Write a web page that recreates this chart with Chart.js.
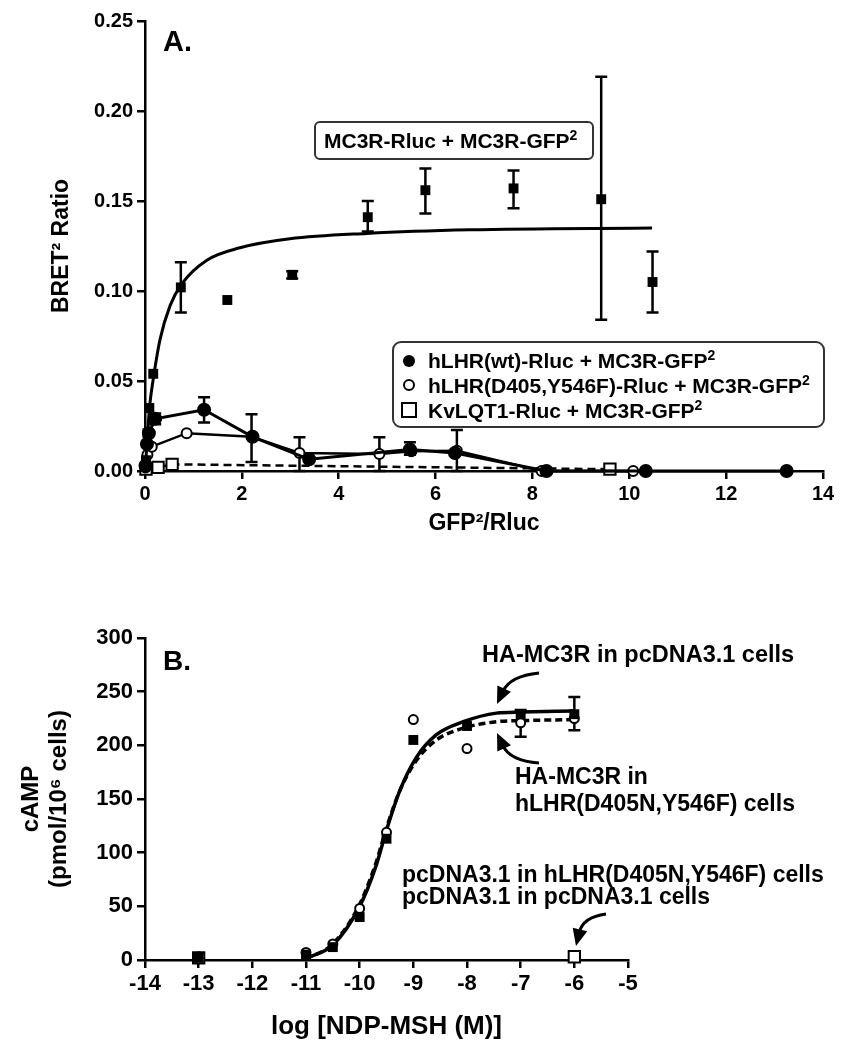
<!DOCTYPE html>
<html>
<head>
<meta charset="utf-8">
<script src="https://cdn.jsdelivr.net/npm/chart.js@4.4.1/dist/chart.umd.min.js"></script>
<style>
  html, body { margin: 0; padding: 0; background: #fff; }
  #wrap { position: relative; width: 849px; height: 1050px; }
  canvas { position: absolute; left: 0; }
  #chartA { top: 0; }
  #chartB { top: 540px; }
</style>
</head>
<body>
<div id="wrap">
  <canvas id="chartA" width="849" height="540"></canvas>
  <canvas id="chartB" width="849" height="510"></canvas>
</div>
<script>
// ---- Panel A: BRET2 saturation ----
const mc3rX  = [0.02, 0.05, 0.09, 0.17, 0.74, 1.70, 3.04, 4.60, 5.79, 7.61, 9.42, 10.48];
const mc3rY  = [0.006, 0.021, 0.035, 0.054, 0.102, 0.095, 0.109, 0.141, 0.156, 0.157, 0.151, 0.105];
const mc3rLo = [null, null, null, null, 0.088, null, 0.107, 0.133, 0.143, 0.146, 0.084, 0.088];
const mc3rHi = [null, null, null, null, 0.116, null, 0.111, 0.150, 0.168, 0.167, 0.219, 0.122];

const mc3rFitX = [0, 0.05, 0.10, 0.17, 0.31, 0.52, 0.76, 1.27, 1.96, 2.99, 4.58, 6.71, 10.47];
const mc3rFitY = [0, 0.020, 0.037, 0.051, 0.073, 0.092, 0.104, 0.117, 0.124, 0.129, 0.132, 0.134, 0.135];

const wtX  = [0.01, 0.04, 0.08, 0.21, 1.22, 2.22, 3.39, 5.47, 6.40, 8.29, 10.34, 13.25];
const wtY  = [0.003, 0.015, 0.021, 0.029, 0.034, 0.019, 0.0065, 0.012, 0.010, 0.0, 0.0, 0.0];
const wtLo = [null, null, null, 0.026, 0.027, null, null, 0.009, null, null, null, null];
const wtHi = [null, null, null, 0.032, 0.041, null, null, 0.016, null, null, null, null];

const mutX  = [0.01, 0.05, 0.14, 0.86, 2.20, 3.19, 4.84, 5.50, 6.44, 8.19, 10.08];
const mutY  = [0.002, 0.009, 0.0135, 0.021, 0.019, 0.010, 0.0094, 0.011, 0.0113, 0.0, 0.0];
const mutLo = [null, null, null, null, 0.005, 0.0, 0.0, null, 0.0, null, null];
const mutHi = [null, null, null, null, 0.0315, 0.0187, 0.0187, null, 0.0228, null, null];

const kvX = [0.02, 0.27, 0.56, 9.60];
const kvY = [0.001, 0.002, 0.0037, 0.001];

// ---- Panel B: cAMP dose response ----
const logDose  = [-13, -11, -10.5, -10, -9.5, -9, -8, -7, -6];
const campWt   = [2, 5, 12, 40, 113, 205, 218, 229, 229];
const campWtLo = [null, null, null, null, null, null, null, null, 214];
const campWtHi = [null, null, null, null, null, null, null, null, 245];
const campMut   = [3, 7, 15, 48, 119, 224, 197, 221, 225];
const campMutLo = [null, null, null, null, null, null, null, 208, null];
const campMutHi = [null, null, null, null, null, null, null, 233, null];

const ctrlDose = [-13, -6];
const ctrlCamp = [2, 3];

const fitDose   = [-11, -10.5, -10, -9.7, -9.5, -9.25, -8.94, -8.57, -8.07, -7.45, -7, -6];
const fitWt     = [1.6, 14, 50, 87, 121, 158, 189, 210, 222, 230, 231, 232];
const fitMut    = [1, 15, 52, 90, 123, 158, 186, 205, 216, 222, 223, 224];

const FONT = "'Liberation Sans', Arial, Helvetica, sans-serif";
Chart.defaults.font.family = FONT;
Chart.defaults.font.weight = "bold";
Chart.defaults.color = "#000";

const pts = (xs, ys) => xs.map((x, i) => ({ x, y: ys[i] }));

const errorBars = {
  id: "errorBars",
  beforeDatasetsDraw(chart) {
    const { ctx, scales: { x, y } } = chart;
    ctx.save();
    ctx.strokeStyle = "#000";
    ctx.lineWidth = 2.5;
    chart.data.datasets.forEach(ds => {
      if (!ds.errLo) return;
      ds.data.forEach((p, i) => {
        const lo = ds.errLo[i], hi = ds.errHi[i];
        if (lo == null || hi == null) return;
        const px = x.getPixelForValue(p.x);
        const yl = y.getPixelForValue(lo), yh = y.getPixelForValue(hi);
        ctx.beginPath();
        ctx.moveTo(px, yl); ctx.lineTo(px, yh);
        ctx.moveTo(px - 6, yl); ctx.lineTo(px + 6, yl);
        ctx.moveTo(px - 6, yh); ctx.lineTo(px + 6, yh);
        ctx.stroke();
      });
    });
    ctx.restore();
  }
};

// text with a trailing superscript part
function rich(ctx, parts, x, y, size) {
  let cx = x;
  parts.forEach(([t, sup]) => {
    const s = sup ? Math.round(size * 0.65) : size;
    ctx.font = `bold ${s}px ${FONT}`;
    ctx.fillText(t, cx, sup ? y - size * 0.38 : y);
    cx += ctx.measureText(t).width;
  });
}

function box(ctx, x, y, w, h, r) {
  ctx.beginPath();
  ctx.roundRect(x, y, w, h, r);
  ctx.lineWidth = 2;
  ctx.strokeStyle = "#333";
  ctx.stroke();
}

const panelA = {
  id: "panelA",
  afterDraw(chart) {
    const ctx = chart.ctx;
    ctx.save();
    ctx.fillStyle = "#000";
    ctx.textBaseline = "alphabetic";
    ctx.font = `bold 29px ${FONT}`;
    ctx.fillText("A.", 163, 51);

    box(ctx, 315, 122, 278, 37, 5);
    rich(ctx, [["MC3R-Rluc + MC3R-GFP", 0], ["2", 1]], 324, 148, 21);

    box(ctx, 393, 342, 431, 85, 8);
    // markers
    ctx.lineWidth = 2;
    ctx.strokeStyle = "#000";
    ctx.beginPath(); ctx.arc(409, 361, 6, 0, Math.PI * 2); ctx.fill();
    ctx.beginPath(); ctx.arc(409, 385, 5, 0, Math.PI * 2);
    ctx.fillStyle = "#fff"; ctx.fill(); ctx.stroke();
    ctx.strokeRect(402, 403, 14, 14);
    ctx.fillStyle = "#000";
    rich(ctx, [["hLHR(wt)-Rluc + MC3R-GFP", 0], ["2", 1]], 428, 368, 21);
    rich(ctx, [["hLHR(D405,Y546F)-Rluc + MC3R-GFP", 0], ["2", 1]], 428, 393, 21);
    rich(ctx, [["KvLQT1-Rluc + MC3R-GFP", 0], ["2", 1]], 428, 418, 21);
    ctx.restore();
  }
};

function arrow(ctx, x0, y0, cx, cy, tx, ty) {
  const dx = tx - cx, dy = ty - cy, d = Math.hypot(dx, dy);
  const ux = dx / d, uy = dy / d, L = 17, W = 7.5;
  const bx = tx - ux * L, by = ty - uy * L;
  ctx.beginPath();
  ctx.moveTo(x0, y0);
  ctx.quadraticCurveTo(cx, cy, bx + ux * 3, by + uy * 3);
  ctx.stroke();
  ctx.beginPath();
  ctx.moveTo(tx, ty);
  ctx.lineTo(bx - uy * W, by + ux * W);
  ctx.lineTo(bx + uy * W, by - ux * W);
  ctx.closePath();
  ctx.fill();
}

const panelB = {
  id: "panelB",
  afterDraw(chart) {
    const ctx = chart.ctx;
    ctx.save();
    ctx.fillStyle = "#000";
    ctx.strokeStyle = "#000";
    ctx.textBaseline = "middle";
    ctx.font = `bold 28px ${FONT}`;
    ctx.fillText("B.", 163, 122);
    ctx.font = `bold 23.5px ${FONT}`;
    ctx.fillText("HA-MC3R in pcDNA3.1 cells", 482, 116);
    ctx.font = `bold 23px ${FONT}`;
    ctx.fillText("HA-MC3R in", 515, 238);
    ctx.fillText("hLHR(D405N,Y546F) cells", 515, 265);
    ctx.fillText("pcDNA3.1 in hLHR(D405N,Y546F) cells", 402, 336);
    ctx.fillText("pcDNA3.1 in pcDNA3.1 cells", 402, 358);
    ctx.lineWidth = 3;
    arrow(ctx, 539, 133, 510, 136, 497, 164);
    arrow(ctx, 539, 223, 510, 221, 497, 193);
    arrow(ctx, 606, 374, 583, 377, 576, 406);
    ctx.restore();
  }
};

function axis(extra) {
  return Object.assign({
    type: "linear",
    border: { display: true, color: "#000", width: 2.5 },
    grid: { display: true, drawOnChartArea: false, drawTicks: true, tickLength: 8, color: "#000", lineWidth: 2.5 },
  }, extra);
}

new Chart(document.getElementById("chartA"), {
  type: "scatter",
  data: {
    datasets: [
      { data: pts(mc3rX, mc3rY), errLo: mc3rLo, errHi: mc3rHi, showLine: false,
        pointStyle: "rect", pointRadius: 7, backgroundColor: "#000", borderColor: "#000", borderWidth: 0 },
      { data: pts(wtX, wtY), errLo: wtLo, errHi: wtHi, showLine: true, borderWidth: 3,
        borderColor: "#000", pointStyle: "circle", pointRadius: 5.5, pointBackgroundColor: "#000" },
      { data: pts(mutX, mutY), errLo: mutLo, errHi: mutHi, showLine: true, borderWidth: 2.5,
        borderColor: "#000", pointStyle: "circle", pointRadius: 5, pointBorderWidth: 2, pointBackgroundColor: "#fff" },
      { data: pts(kvX, kvY), showLine: true, borderWidth: 2.5, borderDash: [8, 5],
        borderColor: "#000", pointStyle: "rect", pointRadius: 8, pointBorderWidth: 2, pointBackgroundColor: "#fff" },
      { data: pts(mc3rFitX, mc3rFitY), showLine: true, borderWidth: 3, borderColor: "#000",
        pointRadius: 0, cubicInterpolationMode: "monotone" },
    ]
  },
  options: {
    responsive: false,
    animation: false,
    events: [],
    clip: false,
    layout: { padding: { top: 21, right: 26, left: 0, bottom: 0 } },
    plugins: { legend: { display: false }, tooltip: { enabled: false } },
    scales: {
      x: axis({
        min: 0, max: 14,
        ticks: { stepSize: 2, font: { size: 20, weight: "bold" }, padding: 3 },
        title: { display: true, text: "GFP²/Rluc", font: { size: 23, weight: "bold" }, padding: { top: 0, bottom: 3 } },
        afterFit(s) { s.height = 69; }
      }),
      y: axis({
        min: 0, max: 0.25,
        ticks: { stepSize: 0.05, font: { size: 20, weight: "bold" }, padding: 4, callback: v => v.toFixed(2) },
        title: { display: true, text: "BRET² Ratio", font: { size: 23, weight: "bold" }, padding: { top: 48 } },
        afterFit(s) { s.width = 145; }
      })
    }
  },
  plugins: [errorBars, panelA]
});

new Chart(document.getElementById("chartB"), {
  type: "scatter",
  data: {
    datasets: [
      { data: pts(logDose, campWt), errLo: campWtLo, errHi: campWtHi, showLine: false,
        pointStyle: "rect", pointRadius: 7, backgroundColor: "#000", borderColor: "#000", borderWidth: 0 },
      { data: pts(ctrlDose, ctrlCamp), showLine: false, pointStyle: "rect", pointRadius: 8,
        pointBorderWidth: 2, borderColor: "#000", pointBackgroundColor: "#fff" },
      { data: pts(logDose, campMut), errLo: campMutLo, errHi: campMutHi, showLine: false,
        pointStyle: "circle", pointRadius: 4.5, pointBorderWidth: 2, borderColor: "#000", pointBackgroundColor: "#fff" },
      { data: pts(fitDose, fitWt), showLine: true, borderWidth: 3.5, borderColor: "#000",
        pointRadius: 0, cubicInterpolationMode: "monotone" },
      { data: pts(fitDose, fitMut), showLine: true, borderWidth: 3.5, borderColor: "#000", borderDash: [7, 4],
        pointRadius: 0, cubicInterpolationMode: "monotone" },
    ]
  },
  options: {
    responsive: false,
    animation: false,
    events: [],
    clip: false,
    layout: { padding: { top: 98, right: 221, left: 0, bottom: 0 } },
    plugins: { legend: { display: false }, tooltip: { enabled: false } },
    scales: {
      x: axis({
        min: -14, max: -5,
        ticks: { stepSize: 1, font: { size: 22, weight: "bold" }, padding: 3 },
        title: { display: true, text: "log [NDP-MSH (M)]", font: { size: 26, weight: "bold" }, padding: { top: 0, bottom: 8 } },
        afterFit(s) { s.height = 90; }
      }),
      y: axis({
        min: 0, max: 300,
        ticks: { stepSize: 50, font: { size: 22, weight: "bold" }, padding: 4 },
        title: { display: true, text: ["cAMP", "(pmol/10⁶ cells)"], font: { size: 24, weight: "bold", lineHeight: 1.15 }, padding: { top: 18 } },
        afterFit(s) { s.width = 145; }
      })
    }
  },
  plugins: [errorBars, panelB]
});
</script>
</body>
</html>
